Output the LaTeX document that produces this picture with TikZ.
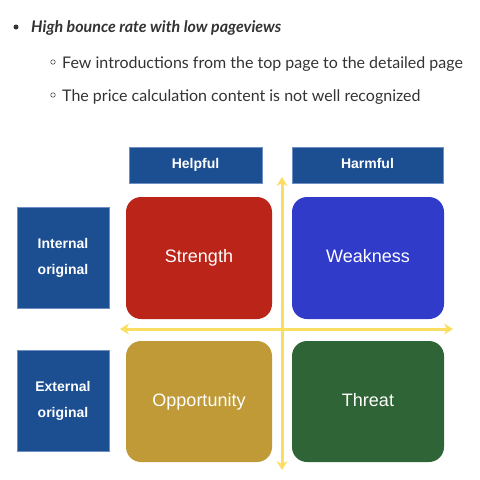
\documentclass[tikz,border=0pt]{standalone}
\usepackage{fontspec}
\setmainfont{Lato}
\newfontfamily\boxfont{Liberation Sans}
\usepackage{xcolor}
\usetikzlibrary{arrows.meta,positioning}

\definecolor{inkgray}{HTML}{333333}
\definecolor{hdrblue}{HTML}{1C4E92}
\definecolor{hdrline}{HTML}{6E8FC4}
\definecolor{strred}{HTML}{BB2519}
\definecolor{weakblue}{HTML}{303BC9}
\definecolor{oppgold}{HTML}{BF9A36}
\definecolor{thrgreen}{HTML}{2F6536}
\definecolor{axisyellow}{HTML}{FADE62}

\begin{document}
\begin{tikzpicture}[
  x=1pt, y=-1pt,
  >={Stealth[length=9pt,width=11pt,inset=3pt]},
  txt/.style={anchor=base west, inner sep=0pt, text=inkgray, font=\fontsize{16}{19}\selectfont},
  dot/.style={circle, fill=inkgray, inner sep=0pt, minimum size=5pt},
  ring/.style={circle, draw=inkgray, line width=0.5pt, inner sep=0pt, minimum size=4.5pt},
  hdr/.style={draw=hdrline, fill=hdrblue, text=white, minimum height=36pt, inner sep=0pt, font=\boxfont\bfseries\fontsize{14}{17}\selectfont},
  side/.style={hdr, minimum width=92pt, minimum height=101pt, align=center, font=\boxfont\bfseries\fontsize{14}{26}\selectfont},
  quad/.style={rounded corners=15pt, text=white, inner sep=0pt, text height=13pt, text depth=4pt, font=\boxfont\fontsize{18}{22}\selectfont},
  axis/.style={<->, line width=3pt, draw=axisyellow}
]
\useasboundingbox (0,0) rectangle (480,480);

% bullet list
\node[dot]  (b1) at (16,27) {};
\node[txt]  (t1) at (31,32)  {\bfseries\itshape High bounce rate with low pageviews};
\node[ring] (b2) at (53,62) {};
\node[txt]  (t2) at (62,68)  {Few introductions from the top page to the detailed page};
\node[ring] (b3) at (53,95) {};
\node[txt]  (t3) at (62,101) {The price calculation content is not well recognized};

% column and row headers
\node[hdr, minimum width=133pt, text height=10pt, text depth=3pt] (helpful) at (195.5,165) {Helpful};
\node[hdr, minimum width=151pt, text height=10pt, text depth=3pt] (harmful) at (367.5,165) {Harmful};
\node[side] (internal) at (63,257.5) {Internal\\original};
\node[side] (external) at (63,401)   {External\\original};

% quadrants
\node[quad, fill=strred,   minimum width=146pt, minimum height=122pt] (str) at (199,258)   {Strength};
\node[quad, fill=weakblue, minimum width=152pt, minimum height=122pt] (wk)  at (368,258)   {Weakness};
\node[quad, fill=oppgold,  minimum width=146pt, minimum height=121pt] (opp) at (199,401.5) {Opportunity};
\node[quad, fill=thrgreen, minimum width=152pt, minimum height=121pt] (thr) at (368,401.5) {Threat};

% axes
\coordinate (axl) at (120,329);
\coordinate (axr) at (453,329);
\coordinate (axt) at (282,177);
\coordinate (axb) at (282,470);
\draw[axis] (axb) -- (axt);
\draw[axis] (axl) -- (axr);
\end{tikzpicture}
\end{document}
